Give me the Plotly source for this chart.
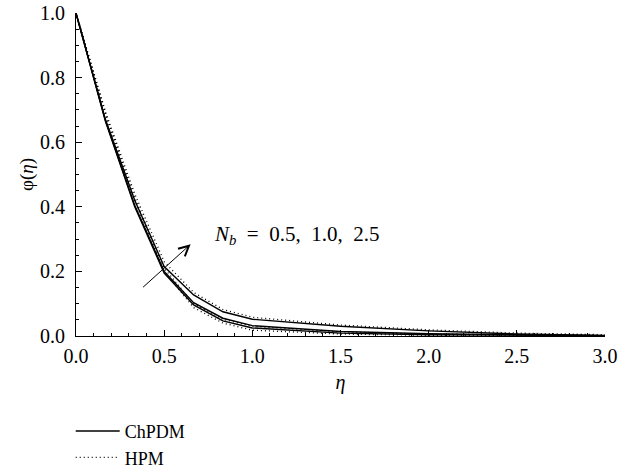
import plotly.graph_objects as go

eta = [0.0, 0.167, 0.333, 0.5, 0.667, 0.833, 1.0, 1.5, 2.0, 2.5, 3.0]

# ChPDM solutions for Nb = 0.5, 1.0, 2.5
chpdm_nb05 = [1.0, 0.665, 0.400, 0.195, 0.096, 0.047, 0.025, 0.009, 0.004, 0.002, 0.001]
chpdm_nb10 = [1.0, 0.667, 0.405, 0.200, 0.103, 0.055, 0.032, 0.014, 0.007, 0.003, 0.001]
chpdm_nb25 = [1.0, 0.670, 0.420, 0.215, 0.127, 0.075, 0.052, 0.030, 0.016, 0.006, 0.002]

# HPM solutions for Nb = 0.5, 1.0, 2.5
hpm_nb05 = [1.0, 0.685, 0.420, 0.200, 0.088, 0.040, 0.018, 0.006, 0.002, 0.001, 0.001]
hpm_nb10 = [1.0, 0.690, 0.428, 0.210, 0.100, 0.052, 0.030, 0.013, 0.006, 0.003, 0.002]
hpm_nb25 = [1.0, 0.695, 0.440, 0.230, 0.135, 0.082, 0.058, 0.034, 0.019, 0.009, 0.004]

x_ticks = [0.0, 0.5, 1.0, 1.5, 2.0, 2.5, 3.0]
y_ticks = [0.0, 0.2, 0.4, 0.6, 0.8, 1.0]

FONT = "Liberation Serif"

fig = go.Figure()
for i, ys in enumerate([chpdm_nb05, chpdm_nb10, chpdm_nb25]):
    fig.add_trace(go.Scatter(x=eta, y=ys, mode="lines", name="ChPDM",
                             legendgroup="ch", showlegend=(i == 0),
                             line=dict(color="black", width=1.4)))
for i, ys in enumerate([hpm_nb05, hpm_nb10, hpm_nb25]):
    fig.add_trace(go.Scatter(x=eta, y=ys, mode="lines", name="HPM",
                             legendgroup="hpm", showlegend=(i == 0),
                             line=dict(color="black", width=1.3, dash="1px,3px")))

fig.add_annotation(x=0.650, y=0.284, ax=0.372, ay=0.147, xref="x", yref="y",
                   axref="x", ayref="y", text="", showarrow=True,
                   arrowhead=5, arrowsize=2.0, arrowwidth=1.0, arrowcolor="black")
fig.add_annotation(x=0.77, y=0.312, xref="x", yref="y", xanchor="left", yanchor="middle",
                   text="<i>N</i><sub><i>b</i></sub>\u2002=\u20020.5,\u20021.0,\u20022.5",
                   showarrow=False,
                   font=dict(family=FONT, size=21, color="black"))

axis_common = dict(showline=True, linecolor="black", linewidth=1.2, mirror=False,
                   showgrid=False, zeroline=False, ticks="inside", ticklen=6,
                   tickwidth=1, tickcolor="black",
                   tickfont=dict(family=FONT, size=20, color="black"))

fig.update_xaxes(range=[0, 3.0], tickvals=x_ticks, ticktext=[f"{v:.1f}" for v in x_ticks],
                 minor=dict(dtick=0.1, ticks="inside", ticklen=3, tickcolor="black"),
                 title=dict(text="<i>η</i>", font=dict(family=FONT, size=20, color="black"),
                            standoff=8),
                 ticklabelstandoff=2, automargin=False, **axis_common)
fig.update_yaxes(range=[0, 1.0], tickvals=y_ticks, ticktext=[f"{v:.1f}" for v in y_ticks],
                 minor=dict(dtick=0.05, ticks="inside", ticklen=3, tickcolor="black"),
                 title=dict(text="φ(<i>η</i>)", font=dict(family=FONT, size=19, color="black"),
                            standoff=1),
                 ticklabelstandoff=6, automargin=False, **axis_common)

fig.update_layout(
    width=633, height=470,
    margin=dict(l=76, r=28, t=13, b=134, autoexpand=False),
    paper_bgcolor="white", plot_bgcolor="white",
    showlegend=True,
    legend=dict(x=-0.01, y=-0.238, xanchor="left", yanchor="top",
                font=dict(family=FONT, size=18, color="black"),
                bgcolor="rgba(0,0,0,0)", tracegroupgap=0, itemwidth=44),
)

fig.write_html("out.html")
